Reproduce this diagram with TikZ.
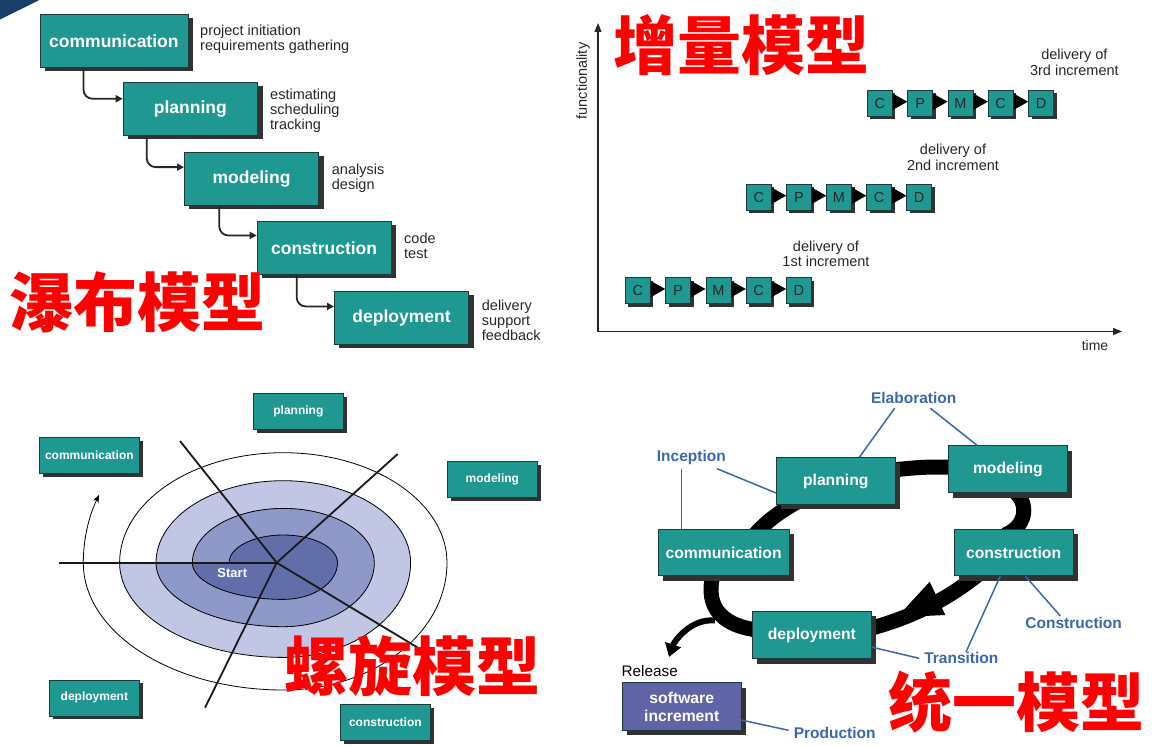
\documentclass[tikz,border=0pt]{standalone}
\usepackage{fontspec}
\setmainfont{Liberation Sans}
\newfontfamily\cjk{Noto Sans CJK SC}
\usetikzlibrary{arrows.meta,calc,shadows}
\definecolor{teal1}{RGB}{32,152,146}
\definecolor{tealborder}{RGB}{28,58,60}
\definecolor{shadowc}{RGB}{50,50,50}
\definecolor{txtgray}{RGB}{40,40,40}
\definecolor{ublue}{RGB}{58,104,170}
\definecolor{swfill}{RGB}{96,100,166}
\definecolor{spA}{RGB}{98,110,170}
\definecolor{spB}{RGB}{142,152,201}
\definecolor{spC}{RGB}{192,198,228}
\definecolor{navy}{RGB}{26,62,104}
\newcommand{\myfs}[2]{\fontsize{#1}{#2}\selectfont}
\begin{document}
\begin{tikzpicture}[x=1pt,y=-1pt,
  wbox/.style={draw=tealborder, line width=0.8pt, fill=teal1, text=white, font=\bfseries\myfs{17.5}{20}, inner sep=0pt, anchor=north west, drop shadow={shadow xshift=5pt, shadow yshift=-4pt, opacity=1, fill=shadowc}},
  ann/.style={anchor=west, align=left, inner sep=0pt, text=txtgray, font=\myfs{14.5}{15}},
  wconn/.style={draw=black!85, line width=1.8pt, rounded corners=9pt, -{Triangle[length=7pt,width=7pt]}},
  ibox/.style={draw=tealborder, line width=0.6pt, fill=teal1, text=txtgray, font=\myfs{14.5}{15}, inner sep=0pt, anchor=north west, minimum width=25pt, minimum height=26pt, drop shadow={shadow xshift=3pt, shadow yshift=-3pt, opacity=1, fill=shadowc}},
  ilab/.style={align=center, inner sep=0pt, text=txtgray, font=\myfs{14.5}{15.5}},
  axis/.style={draw=black!85, line width=1.2pt, -{Triangle[length=9pt,width=7pt]}},
  sbox/.style={draw=tealborder, line width=0.7pt, fill=teal1, text=white, font=\bfseries\myfs{12}{14}, inner sep=0pt, anchor=north west, minimum height=36pt, drop shadow={shadow xshift=4pt, shadow yshift=-3.5pt, opacity=1, fill=shadowc}},
  spline/.style={draw=black, line width=0.8pt},
  radial/.style={draw=black!90, line width=1.8pt},
  ubox/.style={draw=tealborder, line width=0.8pt, fill=teal1, text=white, font=\bfseries\myfs{15.7}{17.7}, inner sep=0pt, anchor=north west, align=center, drop shadow={shadow xshift=5pt, shadow yshift=-5pt, opacity=1, fill=shadowc}},
  uband/.style={draw=black, line width=15pt},
  blab/.style={text=ublue, font=\bfseries\myfs{15.5}{17}, inner sep=0pt},
  bline/.style={draw=ublue, line width=1.5pt},
  redt/.style={text=red, font=\cjk\bfseries\myfs{64}{64}, inner sep=0pt}
]
\useasboundingbox (0,0) rectangle (1156,746);
\fill[white] (0,0) rectangle (1156,746);
\fill[navy] (0,0) -- (39.5,0) -- (0,19.5) -- cycle;

% ================= waterfall =================
\node[wbox, minimum width=148pt, minimum height=53pt] (wcomm) at (39.5,14) {communication};
\node[wbox, minimum width=134.5pt, minimum height=53.3pt] (wplan) at (122.7,81.7) {planning};
\node[wbox, minimum width=134.3pt, minimum height=53.3pt] (wmodel) at (184,151.7) {modeling};
\node[wbox, minimum width=134pt, minimum height=53.3pt] (wcons) at (256.7,220.7) {construction};
\node[wbox, minimum width=134.3pt, minimum height=53.3pt] (wdep) at (334,290.7) {deployment};

\node[ann] (a1) at (200,39.2) {project initiation\\requirements gathering};
\node[ann] (a2) at (270,110.7) {estimating\\scheduling\\tracking};
\node[ann] (a3) at (331.7,178.4) {analysis\\design};
\node[ann] (a4) at (404,245.5) {code\\test};
\node[ann] (a5) at (481.7,320) {delivery\\support\\feedback};

\draw[wconn] ($(wcomm.south west)+(44,0)$) |- ($(wplan.west)+(0,-10)$);
\draw[wconn] ($(wplan.south west)+(24,0)$) |- ($(wmodel.west)+(0,-11.6)$);
\draw[wconn] ($(wmodel.south west)+(35.3,0)$) |- ($(wcons.west)+(0,-12.3)$);
\draw[wconn] ($(wcons.south west)+(40,0)$) |- ($(wdep.west)+(0,-11.3)$);

% ================= incremental =================
\coordinate (orig) at (598,331.5);
\coordinate (ytip) at (598,23);
\coordinate (xtip) at (1122,331.5);
\draw[axis] (orig) -- (ytip);
\draw[axis] (orig) -- (xtip);
\node[rotate=90, text=txtgray, font=\myfs{14.5}{15}, inner sep=0pt] (ylab) at (583,81) {functionality};
\node[text=txtgray, font=\myfs{14}{15}, inner sep=0pt] (xlab) at (1095,345) {time};

\foreach \l [count=\i] in {C,P,M,C,D} {\node[ibox] (ra\i) at ({867+40.3*(\i-1)},90) {\l};}
\foreach \l [count=\i] in {C,P,M,C,D} {\node[ibox] (rb\i) at ({746+40.1*(\i-1)},184) {\l};}
\foreach \l [count=\i] in {C,P,M,C,D} {\node[ibox] (rc\i) at ({625+40.25*(\i-1)},277.3) {\l};}
\foreach \rw in {ra,rb,rc} {
  \foreach \i [evaluate=\i as \j using int(\i+1)] in {1,2,3,4} {
    \fill[black] ($(\rw\i.north east)+(0,3.5)$) -- ($(\rw\i.north east)+(0,20)$) -- ($(\rw\j.north west)+(0,11.7)$) -- cycle;
  }
}
\node[ilab] (d3) at (1074.4,62.5) {delivery of\\3rd increment};
\node[ilab] (d2) at (953,157.5) {delivery of\\2nd increment};
\node[ilab] (d1) at (826,254) {delivery of\\1st increment};

% ================= spiral =================
\fill[spC] (156,562.7) arc[start angle=180,end angle=90,x radius=127.3pt,y radius=82pt] arc[start angle=90,end angle=0,x radius=127.3pt,y radius=82pt] arc[start angle=0,end angle=-90,x radius=127.3pt,y radius=94.7pt] arc[start angle=-90,end angle=-180,x radius=163.7pt,y radius=94.7pt] -- cycle;
\fill[spB] (192.3,562.7) arc[start angle=180,end angle=90,x radius=91pt,y radius=54.3pt] arc[start angle=90,end angle=0,x radius=91pt,y radius=54.3pt] arc[start angle=0,end angle=-90,x radius=91pt,y radius=64pt] arc[start angle=-90,end angle=-180,x radius=127.3pt,y radius=64pt] -- cycle;
\fill[spA] (229.1,562.7) arc[start angle=180,end angle=90,x radius=54.2pt,y radius=27.7pt] arc[start angle=90,end angle=0,x radius=54.2pt,y radius=27.7pt] arc[start angle=0,end angle=-90,x radius=54.2pt,y radius=36.7pt] arc[start angle=-90,end angle=-180,x radius=91pt,y radius=36.7pt] -- cycle;
\draw[spline, -{Stealth[length=8pt,width=6pt]}] (229.1,562.7)
  arc[start angle=180,end angle=90,x radius=54.2pt,y radius=27.7pt] arc[start angle=90,end angle=0,x radius=54.2pt,y radius=27.7pt] arc[start angle=0,end angle=-90,x radius=54.2pt,y radius=36.7pt] arc[start angle=-90,end angle=-180,x radius=91pt,y radius=36.7pt]
  arc[start angle=180,end angle=90,x radius=91pt,y radius=54.3pt] arc[start angle=90,end angle=0,x radius=91pt,y radius=54.3pt] arc[start angle=0,end angle=-90,x radius=91pt,y radius=64pt] arc[start angle=-90,end angle=-180,x radius=127.3pt,y radius=64pt]
  arc[start angle=180,end angle=90,x radius=127.3pt,y radius=82pt] arc[start angle=90,end angle=0,x radius=127.3pt,y radius=82pt] arc[start angle=0,end angle=-90,x radius=127.3pt,y radius=94.7pt] arc[start angle=-90,end angle=-180,x radius=163.7pt,y radius=94.7pt]
  arc[start angle=180,end angle=90,x radius=163.7pt,y radius=110pt] arc[start angle=90,end angle=0,x radius=163.7pt,y radius=110pt] arc[start angle=0,end angle=-90,x radius=163.7pt,y radius=127.3pt] arc[start angle=-90,end angle=-180,x radius=200pt,y radius=127.3pt]
  arc[start angle=180,end angle=157,x radius=200pt,y radius=174pt];
\coordinate (sc) at (276.7,562.7);
\draw[radial] (sc) -- (59.3,562.7);
\draw[radial] (sc) -- (180,441);
\draw[radial] (sc) -- (397.7,454);
\draw[radial] (sc) -- (425,652);
\draw[radial] (sc) -- (205,707.7);
\node[text=white, font=\bfseries\myfs{13}{15}, inner sep=0pt] (start) at (232.3,572.7) {Start};

\node[sbox, minimum width=90pt] (splan) at (253,393) {planning};
\node[sbox, minimum width=100pt] (scomm) at (39,437) {communication};
\node[sbox, minimum width=90pt] (smodel) at (447,461) {modeling};
\node[sbox, minimum width=90pt] (sdep) at (49,679.5) {deployment};
\node[sbox, minimum width=90pt] (scons) at (340,704) {construction};

% ================= unified =================
\node[ubox, minimum width=118.7pt, minimum height=46.7pt] (uplan) at (776,457.3) {};
\node[ubox, minimum width=119pt, minimum height=47pt] (umodel) at (948,445.3) {};
\node[ubox, minimum width=131pt, minimum height=46.3pt] (ucomm) at (657.7,529) {};
\node[ubox, minimum width=119pt, minimum height=46.3pt] (ucons) at (953.7,529) {};
\node[ubox, minimum width=119pt, minimum height=47.3pt] (udep) at (752,611) {};
\begin{scope}
\draw[uband] ($(ucomm.north west)+(92.3,11)$) .. controls +(15,-18) and +(-25,13) .. ($(uplan.south west)+(29,-7)$);
\draw[uband] ($(uplan.east)+(-5,-10.7)$) .. controls +(25,-3) and +(-25,-1) .. ($(umodel.west)+(7,-1.8)$);
\draw[uband] ($(umodel.south west)+(57,-7.3)$) .. controls +(25,10) and +(25,-10) .. ($(ucons.north west)+(51.3,6)$);
\draw[uband] ($(ucons.south west)+(31.3,-7.3)$) .. controls +(-35,30) and +(48,-12) .. ($(udep.east)+(-9,-4.65)$);
\draw[uband] ($(ucomm.south west)+(56.3,-5.3)$) .. controls +(-9,30) and +(-45,-5) .. ($(udep.west)+(8,-4.65)$);
\coordinate (reltip) at (669,657);
\draw[draw=black, line width=6pt, -{Triangle[length=13pt,width=16pt]}] ($(udep.west)+(-37,-14.65)$) .. controls +(-25,-2) and +(5,-15) .. (reltip);
\fill[black] (929.7,581.7) -- (945.3,615) -- (897,617.3) -- cycle;
\end{scope}
\node[ubox, minimum width=118.7pt, minimum height=46.7pt] at (776,457.3) {planning};
\node[ubox, minimum width=119pt, minimum height=47pt] at (948,445.3) {modeling};
\node[ubox, minimum width=131pt, minimum height=46.3pt] at (657.7,529) {communication};
\node[ubox, minimum width=119pt, minimum height=46.3pt] at (953.7,529) {construction};
\node[ubox, minimum width=119pt, minimum height=47.3pt] at (752,611) {deployment};
\node[ubox, fill=swfill, minimum width=118.7pt, minimum height=47.7pt] (usw) at (622,682.3) {software\\increment};

\node[blab] (elab) at (913.7,398.3) {Elaboration};
\node[blab] (incep) at (691.3,457.3) {Inception};
\node[blab] (consl) at (1073.7,623.3) {Construction};
\node[blab] (trans) at (961.3,658.3) {Transition};
\node[blab] (prod) at (834.7,733.3) {Production};
\node[text=black, font=\myfs{15.3}{17}, inner sep=0pt] (rel) at (649.7,671) {Release};

\draw[bline] ($(elab.south)+(-19,4)$) -- ($(uplan.north west)+(83.3,0)$);
\draw[bline] ($(elab.south)+(16.6,4)$) -- ($(umodel.north west)+(29,0)$);
\draw[bline] ($(incep.south)+(-10,4)$) -- ($(ucomm.north west)+(23.6,0)$);
\draw[bline] ($(incep.south)+(25.7,4)$) -- ($(uplan.north west)+(0,35.7)$);
\draw[bline] ($(ucons.south west)+(71.6,0)$) -- ($(consl.north)+(-13.4,-1.5)$);
\draw[bline] ($(ucons.south west)+(46.6,0)$) -- ($(trans.north)+(4.7,-0.5)$);
\draw[bline] ($(udep.south east)+(0,-12)$) -- ($(trans.west)+(-5,0)$);
\draw[bline] ($(usw.south east)+(0,-10.7)$) -- ($(prod.west)+(-5,-3)$);

% ================= titles =================
\node[redt] (t1) at (137.5,302.5) {瀑布模型};
\node[redt] (t2) at (741,45) {增量模型};
\node[redt] (t3) at (412.5,666) {螺旋模型};
\node[redt] (t4) at (1016,702.5) {统一模型};
\end{tikzpicture}
\end{document}
